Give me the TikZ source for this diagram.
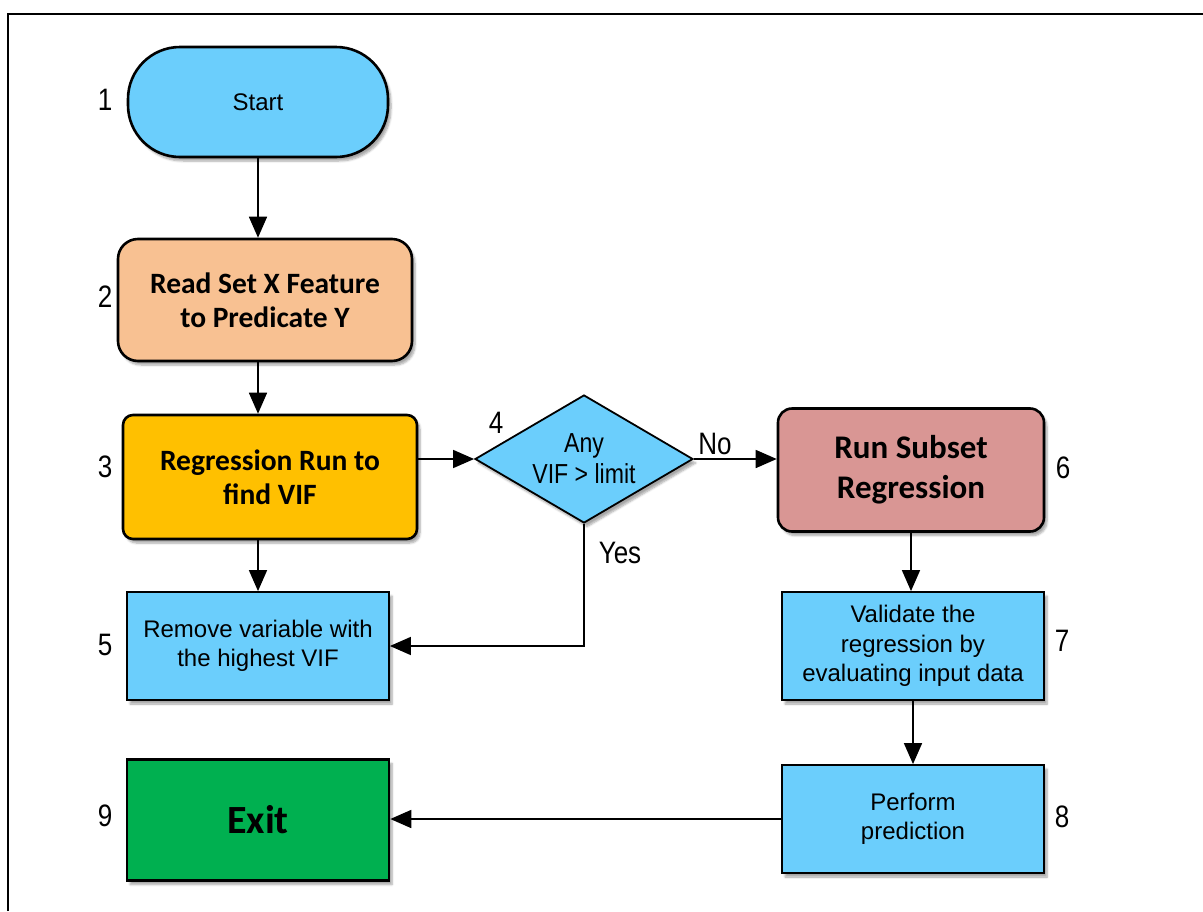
\documentclass[tikz,border=0pt]{standalone}
\usepackage{fontspec}
\setmainfont{Liberation Sans}
\newfontfamily\calib{Carlito}
\newfontfamily\narrow[FakeStretch=0.84]{Liberation Sans}
\usetikzlibrary{arrows.meta,shapes.geometric,shadows.blur}

\definecolor{skyfill}{RGB}{107,206,252}
\definecolor{peachfill}{RGB}{248,193,146}
\definecolor{goldfill}{RGB}{255,192,0}
\definecolor{rosefill}{RGB}{217,150,148}
\definecolor{greenfill}{RGB}{0,176,80}

\tikzset{
  shade/.style={blur shadow={shadow xshift=3pt, shadow yshift=-4pt, shadow opacity=35, shadow blur steps=6}},
  box/.style={draw=black, line width=1.8pt, align=center, inner sep=0pt, shade},
  rbox/.style={box, line width=2.6pt, rounded corners=14pt},
  plain/.style={font=\fontsize{24}{29.5}\selectfont},
  bold/.style={font=\calib\bfseries\fontsize{29.5}{34}\selectfont},
  lab/.style={font=\narrow\fontsize{31}{33}\selectfont, inner sep=0pt},
  arr/.style={line width=1.6pt, -{Triangle[length=21pt,width=18pt]}},
  frame/.style={line width=2.4pt}
}

\begin{document}
\begin{tikzpicture}[x=1pt,y=-1pt]
\useasboundingbox (0,0) rectangle (1203,911);

% outer frame (open on the right and bottom)
\coordinate (ftl) at (8,14);
\coordinate (ftr) at (1203,14);
\coordinate (fbl) at (8,911);
\draw[frame] (fbl) -- (ftl) -- (ftr);

% flowchart nodes
\node[box, line width=2.6pt, rounded corners=52pt, fill=skyfill, plain,
      minimum width=260pt, minimum height=110pt] (start) at (258,102) {Start};
\node[rbox, rounded corners=20pt, fill=peachfill, bold,
      minimum width=294pt, minimum height=122pt] (read) at (265,300)
      {Read Set X Feature\\to Predicate Y};
\node[rbox, rounded corners=10pt, fill=goldfill, bold,
      minimum width=294pt, minimum height=124pt] (reg) at (270,477)
      {Regression Run to\\find VIF};
\node[box, diamond, aspect=1.7, fill=skyfill,
      font=\narrow\fontsize{27.5}{31}\selectfont,
      minimum width=218pt, minimum height=128pt] (dia) at (584,459)
      {Any\\VIF > limit};
\node[rbox, fill=rosefill, font=\calib\bfseries\fontsize{33}{40}\selectfont,
      minimum width=266pt, minimum height=123pt] (run) at (911,470)
      {Run Subset\\Regression};
\node[box, fill=skyfill, plain,
      minimum width=262pt, minimum height=108pt] (remove) at (258,646)
      {Remove variable with\\the highest VIF};
\node[box, fill=skyfill, plain,
      minimum width=262pt, minimum height=108pt] (valid) at (913,646)
      {Validate the\\regression by\\evaluating input data};
\node[box, fill=skyfill, plain,
      minimum width=262pt, minimum height=108pt] (perform) at (913,819)
      {Perform\\prediction};
\node[box, line width=2.6pt, fill=greenfill,
      font=\calib\bfseries\fontsize{40}{44}\selectfont,
      minimum width=262pt, minimum height=121pt] (exit) at (258,820) {Exit};

% step numbers
\node[lab] (n1) at (105,100) {1};
\node[lab] (n2) at (105,297) {2};
\node[lab] (n3) at (105,467) {3};
\node[lab] (n4) at (496,423) {4};
\node[lab] (n5) at (105,645) {5};
\node[lab] (n6) at (1063,468) {6};
\node[lab] (n7) at (1062,641) {7};
\node[lab] (n8) at (1062,817) {8};
\node[lab] (n9) at (105,816) {9};

% connectors
\draw[arr] (start.south) -- (start.south |- read.north);
\draw[arr] (read.south -| start) -- (reg.north -| start);
\draw[arr] (dia.west -| reg.east) -- (dia.west);
\draw[arr] (dia.east) -- (dia.east -| run.west);
\draw[arr] (reg.south -| remove) -- (remove.north);
\draw[arr] (dia.south) |- (remove.east);
\draw[arr] (run.south) -- (run.south |- valid.north);
\draw[arr] (valid.south) -- (perform.north);
\draw[arr] (perform.west) -- (perform.west -| exit.east);

% branch labels
\node[lab] (no) at (715,444) {No};
\node[lab] (yes) at (620,553) {Yes};
\end{tikzpicture}
\end{document}
